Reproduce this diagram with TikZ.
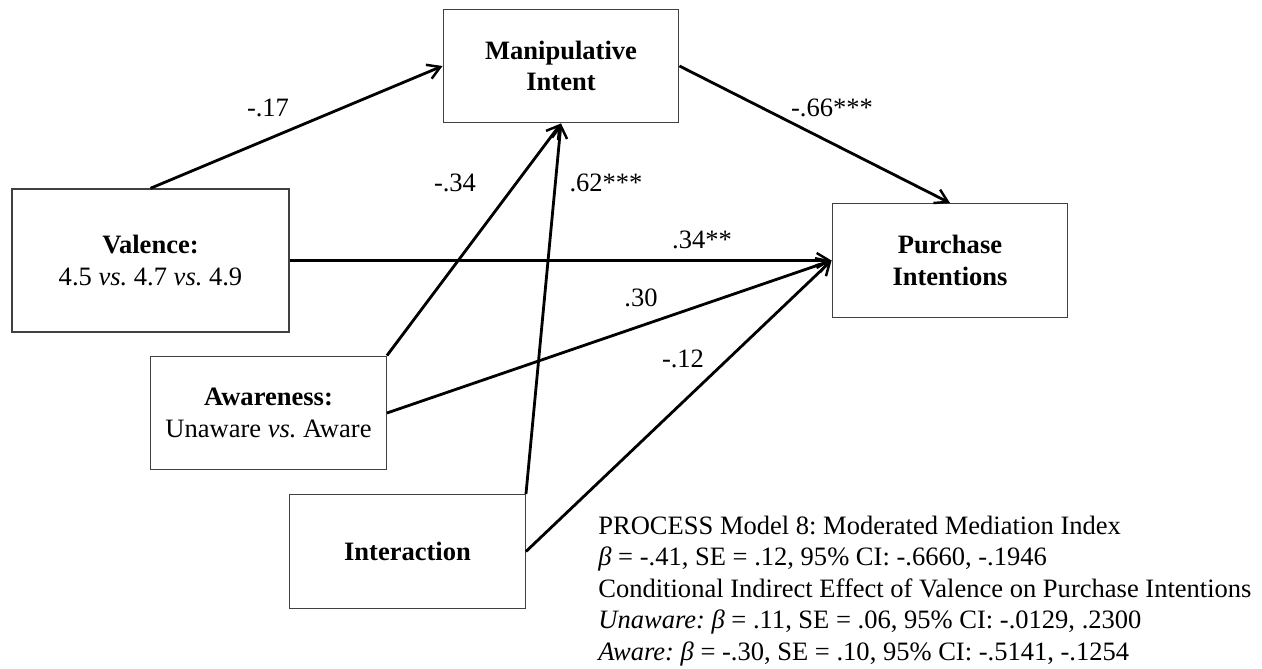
\documentclass[tikz,border=0pt]{standalone}
\usepackage{fontspec}
\setmainfont{Liberation Serif}
\usetikzlibrary{arrows.meta}
\frenchspacing
\tikzset{
    every node/.style={font=\fontsize{15.1pt}{17.9pt}\selectfont, inner sep=0pt}
}
\tikzset{
    box/.style={rectangle, draw=black!75, line width=0.8pt, align=center,
        minimum width=4.71cm, minimum height=2.27cm}
}
\tikzset{
    every edge/.append style={line width=1.6pt,
        -{Straight Barb[length=2.5mm, width=3mm, line width=1.4pt]}}
}

\begin{document}
\begin{tikzpicture}
	\useasboundingbox (0cm, 0cm) rectangle (25.24cm, 13.36cm);

	\node (val) [box, minimum width=5.54cm, minimum height=2.86cm] at ( 3.01cm,  8.15cm)
		{\textbf{Valence:}\\4.5 \textit{vs.} 4.7 \textit{vs.} 4.9};
	\node (man) [box] at (11.22cm, 12.04cm) {\textbf{Manipulative}\\\textbf{Intent}};
	\node (pur) [box] at (19.00cm,  8.15cm) {\textbf{Purchase}\\\textbf{Intentions}};
	\node (awa) [box] at ( 5.37cm,  5.10cm)
		{\textbf{Awareness:}\\Unaware \textit{vs.} Aware};
	\node (int) [box] at ( 8.15cm,  2.33cm) {\textbf{Interaction}};

	\node (c17) at ( 5.36cm, 11.20cm) {-.17};
	\node (c66) at (16.64cm, 11.20cm) {-.66***};
	\node (c34) at ( 9.10cm,  9.70cm) {-.34};
	\node (c62) at (12.12cm,  9.70cm) {.62***};
	\node (d34) at (14.04cm,  8.56cm) {.34**};
	\node (c30) at (12.82cm,  7.40cm) {.30};
	\node (c12) at (13.66cm,  6.18cm) {-.12};

	\node (note) [anchor=north west, align=left] at (11.96cm, 3.05cm)
		{PROCESS Model 8: Moderated Mediation Index\\
		\textit{β} = -.41, SE = .12, 95\% CI: -.6660, -.1946\\
		Conditional Indirect Effect of Valence on Purchase Intentions\\
		\textit{Unaware: β} = .11, SE = .06, 95\% CI: -.0129, .2300\\
		\textit{Aware: β} = -.30, SE = .10, 95\% CI: -.5141, -.1254};

	\draw (val.north) edge (man.west); \draw (man.east) edge (pur.north);
	\draw (val.east) edge (pur.west); \draw (awa.north east) edge (man.south);
	\draw (int.north east) edge (man.south); \draw (awa.east) edge (pur.west);
	\draw (int.east) edge (pur.west);
\end{tikzpicture}
\end{document}
